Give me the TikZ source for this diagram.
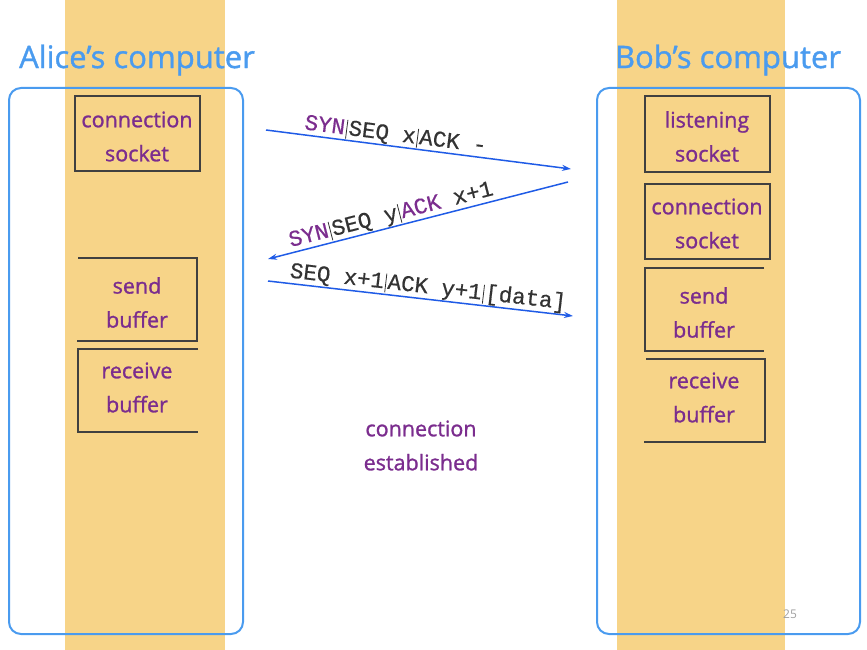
\documentclass[tikz,border=0pt]{standalone}
\usepackage{fontspec}
\setmainfont{Open Sans}
\newfontfamily\labfont[FakeBold=1.2]{Open Sans}
\newfontfamily\monof[FakeBold=0.6]{Liberation Mono}
\usetikzlibrary{arrows.meta}

\definecolor{stripfill}{HTML}{F7D488}
\definecolor{frameblue}{HTML}{4A9BEF}
\definecolor{msgblue}{HTML}{1F5BE6}
\definecolor{lbl}{HTML}{7B2D8E}
\definecolor{edge}{HTML}{404040}
\definecolor{txt}{HTML}{333333}
\definecolor{pagenum}{HTML}{A0A0A0}

\tikzset{
  strip/.style={fill=stripfill, draw=none},
  host/.style={draw=frameblue, line width=2pt, rounded corners=12pt},
  title/.style={text=frameblue, font=\labfont\fontsize{31}{36}\selectfont},
  lab/.style={text=lbl, align=center, inner sep=0pt, font=\labfont\fontsize{21.5}{34}\selectfont},
  sockbox/.style={draw=edge, line width=2pt, minimum width=125pt, minimum height=75pt, inner sep=0pt},
  bufline/.style={draw=edge, line width=1.5pt},
  msg/.style={draw=msgblue, line width=1.5pt},
  tip/.tip={Stealth[length=9pt,width=6pt]},
  msglab/.style={sloped, above, inner sep=0.5pt, text=txt, font=\monof\fontsize{22.5}{24}\selectfont},
}
% thin vertical separator used inside the segment labels
\newcommand\msgsep{\hspace{1.5pt}\rule[-4pt]{0.8pt}{19pt}\hspace{1.5pt}}

\begin{document}
\begin{tikzpicture}[x=1pt,y=-1pt]
  \useasboundingbox (0,0) rectangle (867,650);

  % shaded process columns
  \fill[strip] (65,0) rectangle (225,650);
  \fill[strip] (617,0) rectangle (785,650);

  % host frames and titles
  \draw[host] (9,88) rectangle (243,634);
  \draw[host] (597,88) rectangle (860,634);
  \node[title] (alice) at (137,60) {Alice’s computer};
  \node[title] (bob) at (728,60) {Bob’s computer};

  % Alice side
  \node[sockbox] (acs) at (137.5,133.5) {};
  \node[lab] (acst) at (137,136.5) {connection\\socket};
  \node[lab] (asend) at (137,302.5) {send\\buffer};
  \draw[bufline] (78,258) -- (197,258) -- (197,341) -- (77,341);
  \node[lab] (arecv) at (137,387.5) {receive\\buffer};
  \draw[bufline] (198,349) -- (78,349) -- (78,432) -- (198,432);

  % Bob side
  \node[sockbox] (bls) at (707.5,134) {};
  \node[lab] (blst) at (707,136.5) {listening\\socket};
  \node[sockbox] (bcs) at (707.5,221) {};
  \node[lab] (bcst) at (707,223.5) {connection\\socket};
  \node[lab] (bsend) at (704,312.5) {send\\buffer};
  \draw[bufline] (764,268) -- (645,268) -- (645,351) -- (764,351);
  \node[lab] (brecv) at (704,397.5) {receive\\buffer};
  \draw[bufline] (646,359) -- (765,359) -- (765,442) -- (644,442);

  % handshake segments
  \coordinate (m1s) at (266,130);
  \coordinate (m1e) at (571,169);
  \coordinate (m2s) at (568,182);
  \coordinate (m2e) at (268,259);
  \coordinate (m3s) at (268,281);
  \coordinate (m3e) at (573,316);

  \draw[msg, -tip] (m1s) -- node[msglab, pos=0.42] (l1)
    {{\color{lbl}SYN}\msgsep SEQ x\msgsep ACK -} (m1e);
  \draw[msg, tip-] (m2e) -- node[msglab, pos=0.42] (l2)
    {{\color{lbl}SYN}\msgsep SEQ y\msgsep{\color{lbl}ACK} x+1} (m2s);
  \draw[msg, -tip] (m3s) -- node[msglab, pos=0.52] (l3)
    {SEQ x+1\msgsep ACK y+1\msgsep[data]} (m3e);

  \node[lab] (est) at (421,445.5) {connection\\established};

  \node[text=pagenum, font=\rmfamily\fontsize{12}{14}\selectfont] (pg) at (790,614) {25};
\end{tikzpicture}
\end{document}
